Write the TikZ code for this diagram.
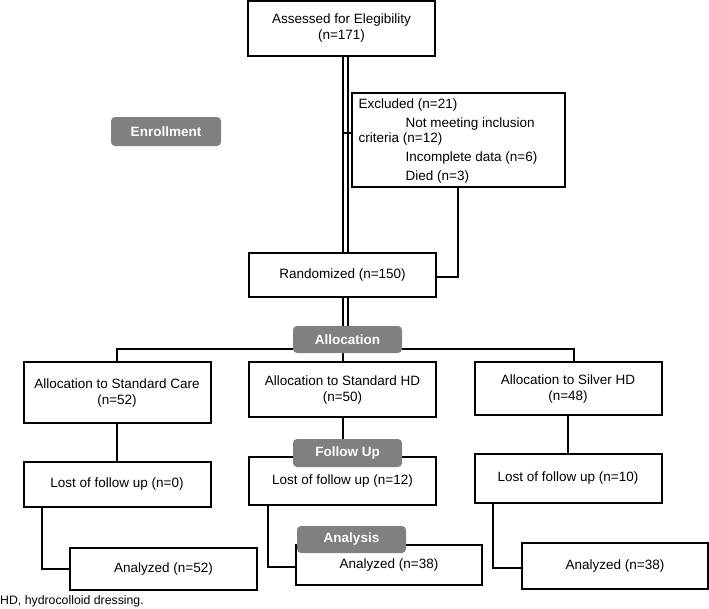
\documentclass[tikz,border=0pt]{standalone}
\usepackage{fontspec}
\setmainfont{Liberation Sans}
\usetikzlibrary{calc}
\definecolor{tagGray}{RGB}{128,128,128}
\begin{document}
\begin{tikzpicture}[x=1pt,y=-1pt,
  box/.style={draw, line width=2pt, fill=white, align=center, inner sep=0pt,
    font=\fontsize{13.5}{16}\selectfont},
  tag/.style={fill=tagGray, rounded corners=4pt, text=white, inner sep=0pt,
    font=\bfseries\fontsize{13.5}{15}\selectfont},
  conn/.style={line width=2pt}]
\useasboundingbox (0,0) rectangle (709,608);

% main boxes
\node[box, minimum width=187pt, minimum height=55pt] (assess) at (341.5,28.5) {Assessed for Elegibility\\(n=171)};
\node[box, minimum width=213pt, minimum height=94pt] (excl) at (458,140) {};
\node[box, minimum width=187pt, minimum height=44pt] (rand) at (342.5,275) {Randomized (n=150)};

\node[box, minimum width=187pt, minimum height=61pt] (care) at (117,392.5) {Allocation to Standard Care\\(n=52)};
\node[box, minimum width=187pt, minimum height=55pt] (shd) at (342.5,389.5) {Allocation to Standard HD\\(n=50)};
\node[box, minimum width=187pt, minimum height=53pt] (silver) at (568,388.5) {Allocation to Silver HD\\(n=48)};

\node[box, minimum width=187pt, minimum height=45pt] (lost1) at (117,484.5) {Lost of follow up (n=0)};
\node[box, minimum width=187pt, minimum height=48pt] (lost2) at (342.5,481) {Lost of follow up (n=12)};
\node[box, minimum width=187pt, minimum height=49pt] (lost3) at (568,478.5) {Lost of follow up (n=10)};

\node[box, minimum width=187pt, minimum height=42pt] (an1) at (163.5,569) {Analyzed (n=52)};
\node[box, minimum width=186pt, minimum height=40pt] (an2) at (389,565) {Analyzed (n=38)};
\node[box, minimum width=186pt, minimum height=46pt] (an3) at (615,566) {Analyzed (n=38)};

% excluded text
\node[anchor=north west, inner sep=0pt, align=left, font=\fontsize{13.5}{15}\selectfont]
  (excltext) at ([xshift=8pt,yshift=-6.5pt]excl.north west)
  {Excluded (n=21)\\[4pt]
   \hspace*{47pt}Not meeting inclusion\\
   criteria (n=12)\\[4pt]
   \hspace*{47pt}Incomplete data (n=6)\\[4pt]
   \hspace*{47pt}Died (n=3)};

% connectors
\coordinate (hl) at (117,349);
\coordinate (hr) at (574,349);
\draw[conn] ([xshift=1.5pt]assess.south) -- ([xshift=1.5pt]assess.south |- rand.north);
\draw[conn] ([xshift=6.5pt]assess.south) -- ([xshift=6.5pt]assess.south |- rand.north);
\draw[conn] ([yshift=7pt]excl.west) -- ++(-8,0);
\draw[conn] (excl.south) |- ([yshift=-2pt]rand.east);
\draw[conn] ([xshift=0.5pt]rand.south) -- ([xshift=0.5pt]rand.south |- hl) -- ([xshift=0.5pt]shd.north);
\draw[conn] ([xshift=5.5pt]rand.south) -- ([xshift=5.5pt]rand.south |- 0,330);
\draw[conn] (care.north) -- (hl) -- (hr) -- (hr |- silver.north);
\draw[conn] (care.south) -- (lost1.north);
\draw[conn] ([xshift=0.5pt]shd.south) -- ([xshift=0.5pt]lost2.north);
\draw[conn] (silver.south) -- (lost3.north);
\draw[conn] ([xshift=-75pt]lost1.south) |- (an1.west);
\draw[conn] ([xshift=-74.5pt]lost2.south) |- ([yshift=-2pt]an2.west);
\draw[conn] ([xshift=-75pt]lost3.south) |- ([yshift=-2pt]an3.west);

% section tags
\node[tag, minimum width=110pt, minimum height=29pt] (enroll) at (166,131.5) {Enrollment};
\node[tag, minimum width=109pt, minimum height=27pt] (alloc) at (347.5,339.5) {Allocation};
\node[tag, minimum width=109pt, minimum height=28pt] (follow) at (347.5,453) {Follow Up};
\node[tag, minimum width=109pt, minimum height=27pt] (analysis) at (351.5,539.5) {Analysis};

% footnote
\node[anchor=west, inner sep=0pt, font=\fontsize{12.3}{14}\selectfont] (foot) at (0,601) {HD, hydrocolloid dressing.};
\end{tikzpicture}
\end{document}
